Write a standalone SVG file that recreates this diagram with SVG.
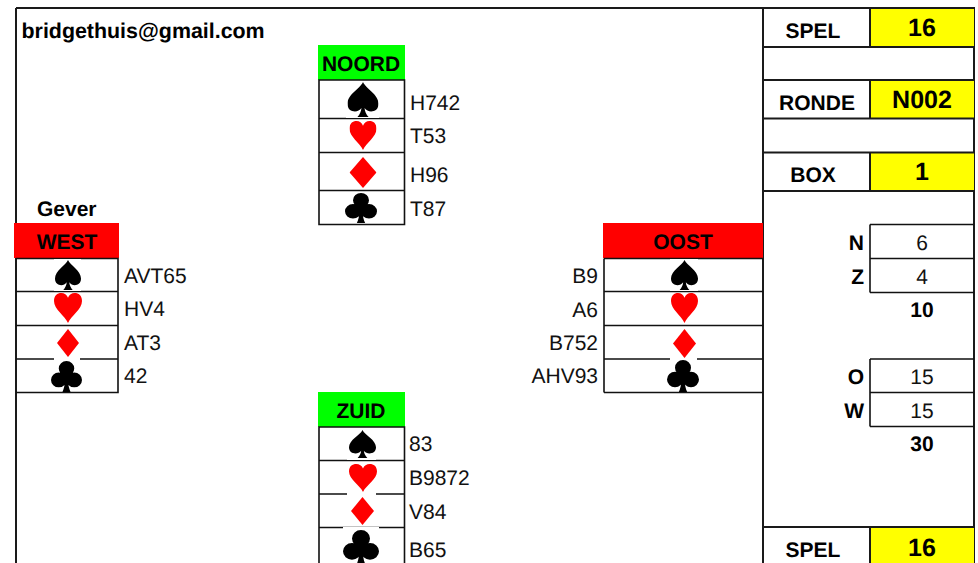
<svg xmlns="http://www.w3.org/2000/svg" width="978" height="563" viewBox="0 0 978 563">
<style>
text{font-family:"Liberation Sans",Arial,sans-serif;font-size:21px;fill:#111;text-rendering:geometricPrecision}
.b{font-weight:bold;fill:#000}
.m{text-anchor:middle}
.e{text-anchor:end}
.y{font-size:25px;font-weight:bold;fill:#000;text-anchor:middle}
.l{stroke:#1a1a1a;stroke-width:2;fill:none}
.t{stroke:#111;stroke-width:1.6;fill:none}
</style>
<defs>
<symbol id="spade" viewBox="0 0 100 100" preserveAspectRatio="none"><path d="M50 0C58 18 100 35 100 62C100 78 88 84 76 84C68 84 60 80 55 74C56 84 60 92 68 100H32C40 92 44 84 45 74C40 80 32 84 24 84C12 84 0 78 0 62C0 35 42 18 50 0Z" fill="#000"/></symbol>
<symbol id="heart" viewBox="0 0 100 100" preserveAspectRatio="none"><path d="M50 100C38 75 0 55 0 27C0 8 12 0 26 0C37 0 46 6 50 16C54 6 63 0 74 0C88 0 100 8 100 27C100 55 62 75 50 100Z" fill="#f00"/></symbol>
<symbol id="diamond" viewBox="0 0 100 100" preserveAspectRatio="none"><path d="M50 0L100 50L50 100L0 50Z" fill="#f00"/></symbol>
<symbol id="club" viewBox="0 0 100 100" preserveAspectRatio="none"><path d="M50 0A25 24 0 1 1 50 48A25 24 0 1 1 50 0ZM25 37A25 24 0 1 1 25 85A25 24 0 1 1 25 37ZM75 37A25 24 0 1 1 75 85A25 24 0 1 1 75 37ZM40 40H60V60H40ZM46 55H54C55 75 58 90 63 100H37C42 90 45 75 46 55Z" fill="#000"/></symbol>
</defs>
<rect width="978" height="563" fill="#fff"/>
<g id="frame">
<path class="l" d="M16 8H975M16 8V563M763 8V563M974 8V563"/>
</g>
<g id="email"><text class="b" x="21.500" y="38" style="font-size:21.400px">bridgethuis@gmail.com</text></g>
<g id="noord">
<rect x="318" y="45" width="87" height="35" fill="#0f0"/>
<path class="t" d="M319 80H404.500V224.500H319ZM319 118.500H404.500M319 152.500H404.500M319 190.500H404.500"/>
<rect x="346" y="81" width="33" height="37" fill="#fff"/>
<use href="#spade" x="347.500" y="82" width="31" height="35"/>
<use href="#heart" x="349.500" y="121" width="27" height="29"/>
<use href="#diamond" x="349.500" y="157" width="27" height="31"/>
<use href="#club" x="345" y="193" width="32" height="30"/>
<text class="b m" x="361" y="71">NOORD</text>
<text x="410" y="110">H742</text><text x="410" y="143">T53</text><text x="410" y="182">H96</text><text x="410" y="216">T87</text>
</g>
<g id="west">
<text class="b" x="37" y="216">Gever</text>
<rect x="14" y="223" width="105" height="35" fill="#f00"/>
<path class="t" d="M16 258.500H118V392.500H16M16 291.500H118M16 325.500H118M16 359H118"/>
<rect x="54" y="259" width="27" height="32" fill="#fff"/><rect x="54" y="358" width="26" height="3" fill="#fff"/>
<use href="#spade" x="55" y="260" width="26" height="30"/>
<use href="#heart" x="54" y="293" width="28" height="30"/>
<use href="#diamond" x="57" y="329" width="22" height="28"/>
<use href="#club" x="51" y="361" width="31" height="31"/>
<text class="b m" x="67" y="249">WEST</text>
<text x="124" y="283">AVT65</text><text x="124" y="316">HV4</text><text x="124" y="350">AT3</text><text x="124" y="383">42</text>
</g>
<g id="oost">
<rect x="603" y="223" width="160" height="35" fill="#f00"/>
<path class="t" d="M604 258.500V392.500M604 258.500H763M604 291.500H763M604 325.500H763M604 359H763M604 392.500H763"/>
<rect x="670" y="259" width="28" height="32" fill="#fff"/><rect x="670" y="358" width="27" height="3" fill="#fff"/>
<use href="#spade" x="671" y="260" width="27" height="30"/>
<use href="#heart" x="671" y="293" width="27" height="30"/>
<use href="#diamond" x="673" y="329" width="23" height="29"/>
<use href="#club" x="667" y="360" width="32" height="32"/>
<text class="b m" x="683" y="249">OOST</text>
<text class="e" x="598" y="283">B9</text><text class="e" x="598" y="317">A6</text><text class="e" x="598" y="350">B752</text><text class="e" x="598" y="383">AHV93</text>
</g>
<g id="zuid">
<rect x="318" y="392" width="87" height="35" fill="#0f0"/>
<path class="t" d="M319 563V427H404.500V563M319 460.500H404.500M319 494H404.500M319 527.500H404.500"/>
<rect x="347" y="428" width="29" height="32" fill="#fff"/><rect x="347" y="493" width="29" height="3" fill="#fff"/><rect x="343" y="527" width="36" height="3" fill="#fff"/>
<use href="#spade" x="349" y="430" width="27" height="28"/>
<use href="#heart" x="349" y="464" width="28" height="28"/>
<use href="#diamond" x="351" y="497" width="23" height="28"/>
<use href="#club" x="343" y="530" width="36" height="35"/>
<text class="b m" x="361" y="418">ZUID</text>
<text x="409" y="451">83</text><text x="409" y="485">B9872</text><text x="409" y="519">V84</text><text x="409" y="557">B65</text>
</g>
<g id="panel">
<rect x="871" y="8" width="103" height="39" fill="#ff0"/>
<rect x="871" y="80" width="103" height="38" fill="#ff0"/>
<rect x="871" y="152" width="103" height="39" fill="#ff0"/>
<rect x="871" y="527" width="103" height="36" fill="#ff0"/>
<path class="l" d="M763 8H975M763 47H975M763 80H975M763 118.500H975M763 152.500H975M763 191H975M763 527H975M870 8V47M870 80V118.500M870 152.500V191M870 527V563"/>
<path class="t" d="M870 224.500H974M870 258.500H974M870 292.500H974M870 224.500V292.500M870 359H974M870 392.500H974M870 426.500H974M870 359V426.500"/>
<text class="b m" x="813" y="38">SPEL</text><text class="y" x="922" y="36">16</text>
<text class="b m" x="817" y="110">RONDE</text><text class="y" x="922" y="108">N002</text>
<text class="b m" x="813" y="182">BOX</text><text class="y" x="922" y="180">1</text>
<text class="b e" x="864" y="250">N</text><text class="m" x="922" y="250">6</text>
<text class="b e" x="864" y="284">Z</text><text class="m" x="922" y="284">4</text>
<text class="b m" x="922" y="317">10</text>
<text class="b e" x="864" y="384">O</text><text class="m" x="922" y="384">15</text>
<text class="b e" x="864" y="418">W</text><text class="m" x="922" y="418">15</text>
<text class="b m" x="922" y="451">30</text>
<text class="b m" x="813" y="557">SPEL</text><text class="y" x="922" y="556">16</text>
</g>
</svg>
